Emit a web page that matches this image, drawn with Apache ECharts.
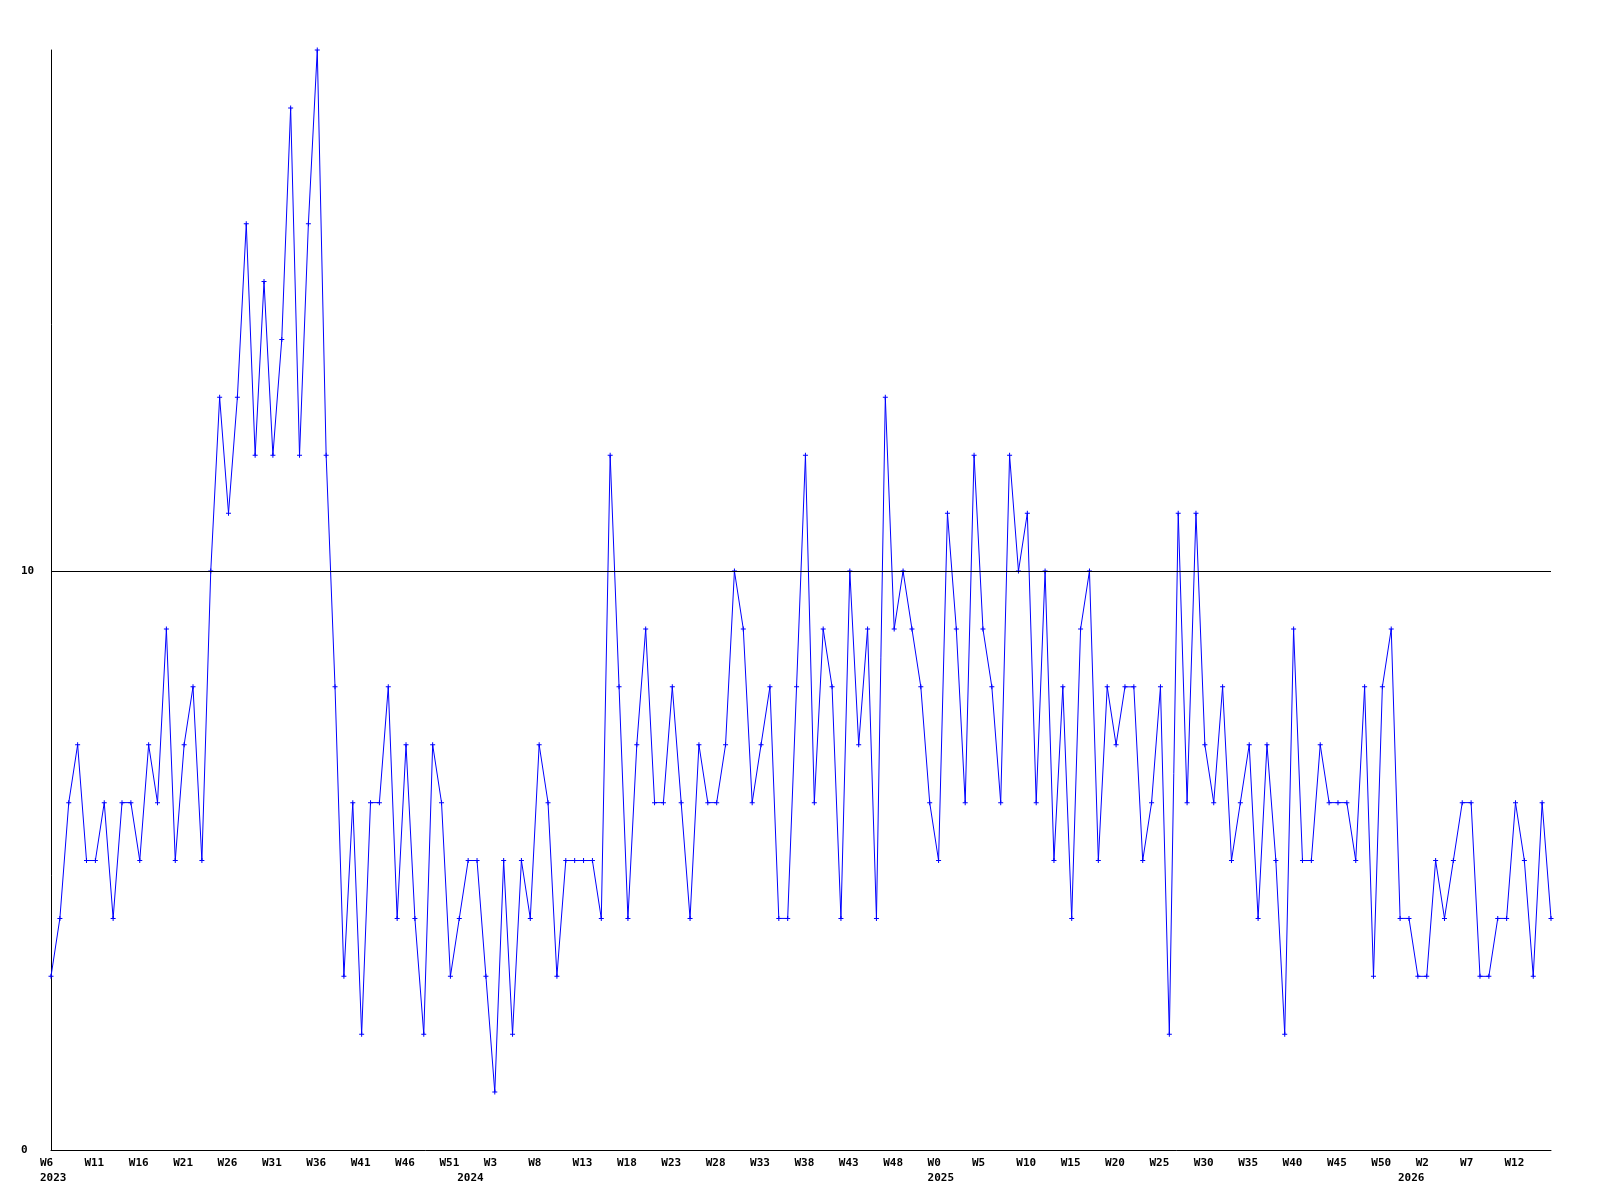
<!DOCTYPE html>
<html>
<head>
<meta charset="utf-8">
<script src="https://cdn.jsdelivr.net/npm/echarts@6/dist/echarts.min.js"></script>
<style>
  html, body { margin: 0; padding: 0; background: #fff; }
  #chart { width: 1600px; height: 1200px; }
</style>
</head>
<body>
<div id="chart"></div>
<script>
// Week ranges per year: [year, firstWeek, lastWeek]
const yearSegments = [[2023, 6, 52], [2024, 0, 52], [2025, 0, 52], [2026, 0, 16]];

// Weekly counts
const values = [
  3, 4, 6, 7, 5, 5, 6, 4, 6, 6,
  5, 7, 6, 9, 5, 7, 8, 5, 10, 13,
  11, 13, 16, 12, 15, 12, 14, 18, 12, 16,
  19, 12, 8, 3, 6, 2, 6, 6, 8, 4,
  7, 4, 2, 7, 6, 3, 4, 5, 5, 3,
  1, 5, 2, 5, 4, 7, 6, 3, 5, 5,
  5, 5, 4, 12, 8, 4, 7, 9, 6, 6,
  8, 6, 4, 7, 6, 6, 7, 10, 9, 6,
  7, 8, 4, 4, 8, 12, 6, 9, 8, 4,
  10, 7, 9, 4, 13, 9, 10, 9, 8, 6,
  5, 11, 9, 6, 12, 9, 8, 6, 12, 10,
  11, 6, 10, 5, 8, 4, 9, 10, 5, 8,
  7, 8, 8, 5, 6, 8, 2, 11, 6, 11,
  7, 6, 8, 5, 6, 7, 4, 7, 5, 2,
  9, 5, 5, 7, 6, 6, 6, 5, 8, 3,
  8, 9, 4, 4, 3, 3, 5, 4, 5, 6,
  6, 3, 3, 4, 4, 6, 5, 3, 6, 4
];

const yTickValues = [0, 10];
const referenceLine = 10;

// Build category labels from the week ranges
const categories = [];
const yearStart = {};
yearSegments.forEach(([y, a, b]) => {
  yearStart[categories.length] = y;
  for (let w = a; w <= b; w++) categories.push(y + '-W' + w);
});

const chart = echarts.init(document.getElementById('chart'), null, { renderer: 'canvas' });
const font = '"DejaVu Sans Mono", monospace';

chart.setOption({
  animation: false,
  backgroundColor: '#ffffff',
  grid: { left: 51, right: 49, top: 50, bottom: 50, containLabel: false },
  xAxis: {
    type: 'category',
    data: categories,
    boundaryGap: false,
    axisLine: { show: true, lineStyle: { color: '#000', width: 1 } },
    axisTick: { show: false },
    splitLine: { show: false },
    axisLabel: {
      interval: (idx) => idx % 5 === 0 || yearStart[idx] !== undefined,
      formatter: (val, idx) => {
        const wk = val.split('-')[1];
        let s = idx % 5 === 0 ? wk : '';
        if (yearStart[idx] !== undefined) s += '\n' + yearStart[idx];
        return s;
      },
      align: 'left',
      padding: [0, 0, 0, -11],
      margin: 6,
      color: '#000',
      fontFamily: font,
      fontWeight: 'bold',
      fontSize: 11,
      lineHeight: 15
    }
  },
  yAxis: {
    type: 'value',
    min: 0,
    max: 19,
    interval: 10,
    axisLine: { show: true, lineStyle: { color: '#000', width: 1 } },
    axisTick: { show: false },
    splitLine: { show: false },
    axisLabel: {
      customValues: yTickValues,
      align: 'left',
      margin: 30,
      color: '#000',
      fontFamily: font,
      fontWeight: 'bold',
      fontSize: 11
    }
  },
  series: [{
    type: 'line',
    data: values,
    symbol: 'path://M2,0L3,0L3,2L5,2L5,3L3,3L3,5L2,5L2,3L0,3L0,2L2,2Z',
    symbolSize: 5,
    showAllSymbol: true,
    lineStyle: { color: '#0000ff', width: 1 },
    itemStyle: { color: '#0000ff' },
    markLine: {
      silent: true,
      symbol: ['none', 'none'],
      label: { show: false },
      lineStyle: { color: '#000', width: 1, type: 'solid' },
      data: [{ yAxis: referenceLine }]
    },
    z: 3
  }]
});
</script>
</body>
</html>
